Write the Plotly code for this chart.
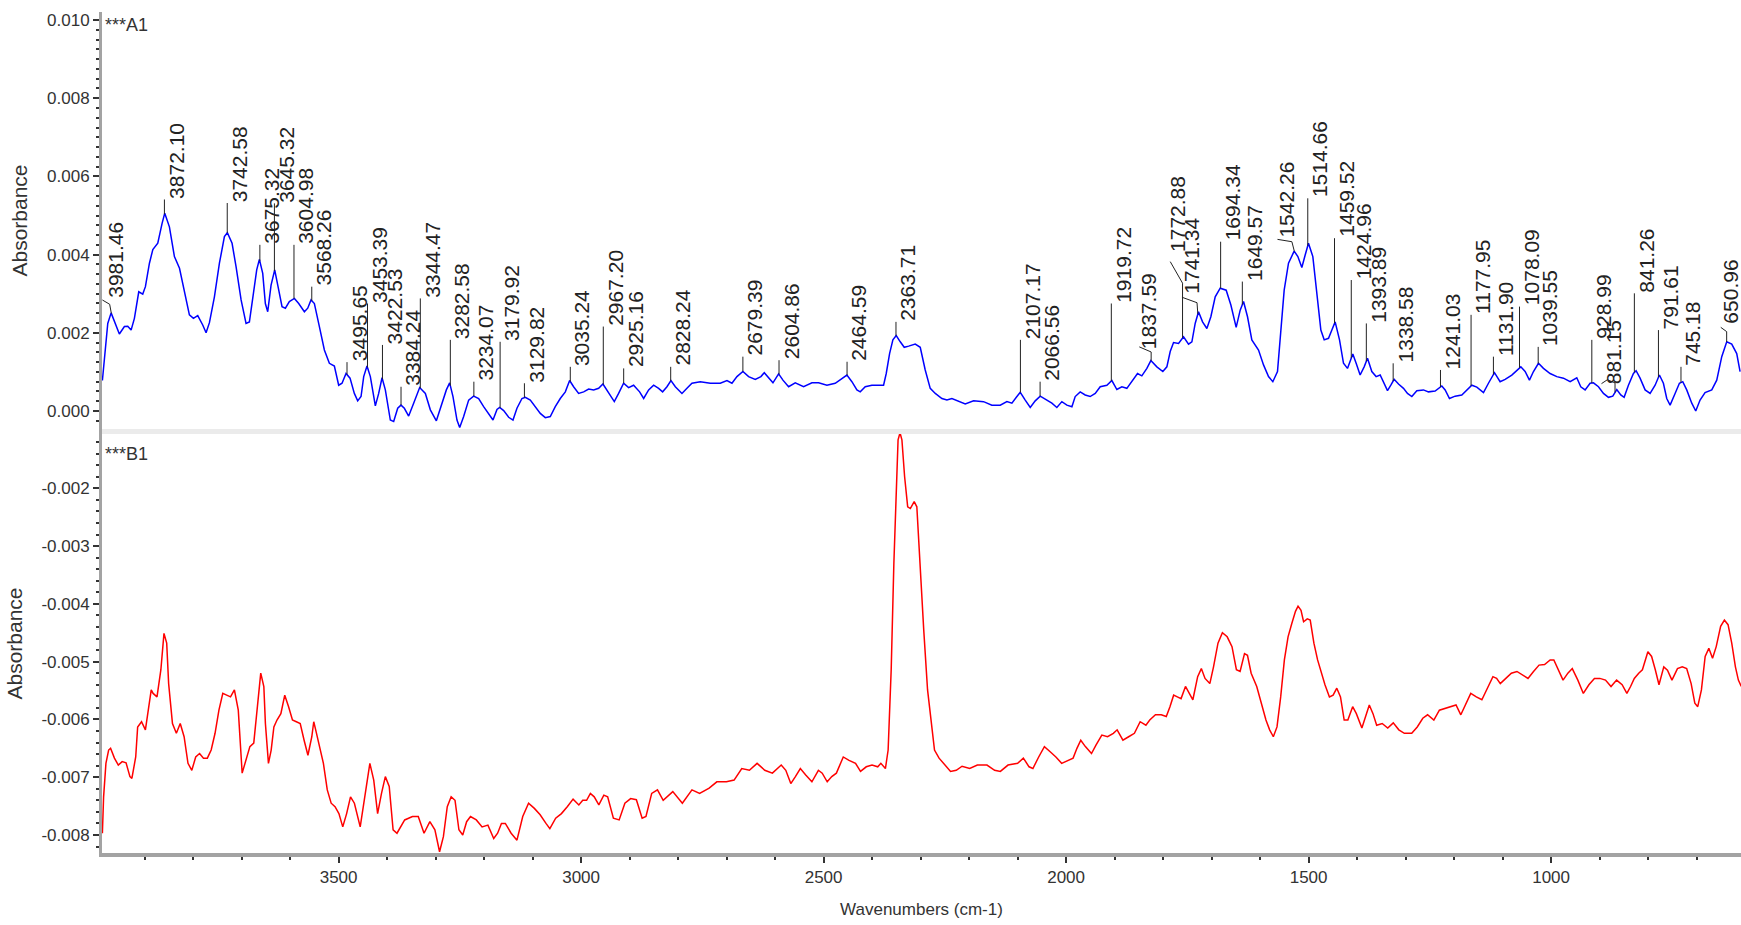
import numpy as np
import plotly.graph_objects as go

# ---------------- data: spectrum A1 (top, blue), wavenumbers read on the axis ----------------
a1_wn = [3987.0, 3980.7, 3975.9, 3969.0, 3962.0, 3952.0, 3941.6, 3934.7, 3927.8, 3921.0,
         3912.0, 3903.8, 3898.3, 3890.0, 3883.0, 3872.8, 3863.9, 3858.4, 3848.8, 3838.5,
         3828.0, 3817.9, 3807.6, 3799.3, 3790.4, 3780.1, 3773.2, 3766.3, 3756.0, 3745.7,
         3735.4, 3729.3, 3719.6, 3711.4, 3701.0, 3690.8, 3683.9, 3675.6, 3668.8, 3663.3,
         3656.4, 3651.0, 3646.1, 3639.2, 3631.7, 3624.8, 3616.6, 3609.7, 3601.5, 3591.1,
         3582.2, 3570.5, 3563.6, 3556.8, 3549.9, 3539.6, 3529.3, 3519.0, 3508.7, 3499.8,
         3492.9, 3484.6, 3476.4, 3467.5, 3460.6, 3453.7, 3448.2, 3441.4, 3434.5, 3424.2,
         3417.3, 3410.4, 3403.6, 3393.3, 3386.4, 3378.1, 3371.3, 3364.4, 3355.5, 3345.2,
         3332.8, 3321.1, 3310.8, 3298.4, 3286.8, 3277.8, 3271.0, 3264.1, 3255.9, 3250.3,
         3242.1, 3231.8, 3221.5, 3211.2, 3200.9, 3190.6, 3181.6, 3173.4, 3167.9, 3159.6,
         3149.3, 3140.4, 3132.2, 3121.9, 3115.0, 3104.7, 3094.4, 3084.1, 3073.8, 3063.5,
         3053.2, 3042.9, 3032.5, 3023.6, 3015.4, 3005.1, 2994.7, 2984.4, 2974.1, 2963.8,
         2954.9, 2943.2, 2931.5, 2922.6, 2912.3, 2902.0, 2891.7, 2879.3, 2871.0, 2860.7,
         2850.4, 2840.1, 2831.9, 2822.9, 2814.7, 2805.7, 2792.0, 2781.7, 2771.4, 2754.2,
         2733.6, 2713.0, 2699.2, 2688.9, 2678.6, 2666.3, 2654.6, 2640.9, 2629.2, 2622.3,
         2613.4, 2604.4, 2592.7, 2583.8, 2572.1, 2558.4, 2541.2, 2524.0, 2510.3, 2493.1,
         2476.0, 2462.2, 2451.9, 2441.6, 2431.3, 2424.4, 2414.1, 2400.4, 2386.6, 2376.3,
         2370.8, 2363.9, 2357.1, 2350.2, 2341.9, 2333.7, 2324.6, 2311.0, 2300.7, 2290.4,
         2280.1, 2269.7, 2256.0, 2245.7, 2235.4, 2225.1, 2207.9, 2190.7, 2170.1, 2153.0,
         2135.8, 2122.0, 2111.7, 2101.4, 2094.5, 2084.2, 2073.9, 2063.6, 2053.3, 2039.6,
         2029.3, 2019.0, 2008.7, 1998.3, 1988.0, 1981.2, 1970.9, 1960.6, 1950.3, 1939.9,
         1929.6, 1915.9, 1905.6, 1895.3, 1885.0, 1874.7, 1864.4, 1852.7, 1843.8, 1833.4,
         1825.2, 1812.8, 1800.5, 1792.2, 1785.3, 1778.4, 1768.1, 1757.8, 1747.5, 1740.6,
         1733.8, 1726.9, 1718.6, 1709.7, 1701.5, 1692.5, 1682.2, 1669.9, 1660.2, 1649.3,
         1641.0, 1634.1, 1625.9, 1617.0, 1603.2, 1592.9, 1582.6, 1573.7, 1564.1, 1557.2,
         1550.3, 1541.4, 1529.7, 1522.1, 1513.9, 1507.0, 1500.2, 1491.2, 1483.0, 1474.7,
         1467.8, 1458.9, 1452.0, 1445.2, 1436.2, 1428.0, 1419.8, 1408.8, 1401.9, 1393.7,
         1385.4, 1378.5, 1369.6, 1360.7, 1352.4, 1345.6, 1337.3, 1330.4, 1323.6, 1314.6,
         1304.3, 1296.1, 1287.1, 1276.8, 1263.1, 1252.8, 1239.1, 1225.3, 1218.4, 1209.5,
         1197.8, 1184.1, 1173.7, 1163.4, 1153.1, 1139.4, 1129.1, 1116.7, 1105.1, 1094.7,
         1081.0, 1070.7, 1062.4, 1053.5, 1044.6, 1036.3, 1026.0, 1015.7, 1002.0, 988.2,
         974.5, 960.7, 947.0, 938.8, 929.8, 919.5, 912.6, 902.3, 892.0, 881.7,
         872.8, 864.5, 856.3, 849.4, 840.5, 830.2, 824.7, 816.5, 806.1, 795.8,
         785.5, 776.6, 768.4, 761.5, 754.6, 744.3, 735.4, 728.5, 720.3, 709.9,
         701.7, 692.8, 682.5, 668.7, 658.4, 648.1, 637.8, 627.5, 617.2, 610.3]
a1_abs = [0.00078, 0.00156, 0.00224, 0.00251, 0.00228, 0.00197, 0.00216, 0.00217, 0.00207, 0.00237,
          0.00305, 0.00299, 0.00318, 0.00378, 0.00413, 0.00429, 0.00480, 0.00506, 0.00471, 0.00395,
          0.00365, 0.00309, 0.00246, 0.00237, 0.00244, 0.00220, 0.00200, 0.00226, 0.00292, 0.00378,
          0.00446, 0.00456, 0.00429, 0.00369, 0.00284, 0.00224, 0.00228, 0.00301, 0.00361, 0.00388,
          0.00352, 0.00275, 0.00254, 0.00322, 0.00361, 0.00318, 0.00267, 0.00263, 0.00280, 0.00288,
          0.00275, 0.00254, 0.00263, 0.00284, 0.00275, 0.00216, 0.00156, 0.00122, 0.00115, 0.00066,
          0.00071, 0.00096, 0.00084, 0.00045, 0.00026, 0.00037, 0.00088, 0.00115, 0.00088, 0.00013,
          0.00045, 0.00085, 0.00054, -0.00023, -0.00027, 0.00007, 0.00015, 0.00007, -0.00013, 0.00020,
          0.00060, 0.00045, 0.00003, -0.00025, 0.00020, 0.00054, 0.00072, 0.00037, -0.00023, -0.00042,
          -0.00014, 0.00028, 0.00038, 0.00032, 0.00011, -0.00008, -0.00023, 0.00004, 0.00009, 0.00001,
          -0.00016, -0.00023, 0.00007, 0.00032, 0.00035, 0.00028, 0.00011, -0.00006, -0.00017, -0.00014,
          0.00011, 0.00032, 0.00049, 0.00078, 0.00062, 0.00045, 0.00049, 0.00056, 0.00054, 0.00058,
          0.00069, 0.00045, 0.00024, 0.00045, 0.00071, 0.00060, 0.00066, 0.00049, 0.00032, 0.00054,
          0.00066, 0.00058, 0.00049, 0.00062, 0.00078, 0.00062, 0.00045, 0.00058, 0.00071, 0.00075,
          0.00071, 0.00071, 0.00078, 0.00071, 0.00088, 0.00101, 0.00088, 0.00081, 0.00088, 0.00098,
          0.00086, 0.00072, 0.00095, 0.00079, 0.00062, 0.00072, 0.00062, 0.00072, 0.00072, 0.00066,
          0.00071, 0.00084, 0.00092, 0.00075, 0.00054, 0.00049, 0.00062, 0.00066, 0.00066, 0.00066,
          0.00096, 0.00147, 0.00182, 0.00193, 0.00177, 0.00163, 0.00166, 0.00171, 0.00163, 0.00105,
          0.00058, 0.00045, 0.00032, 0.00028, 0.00032, 0.00026, 0.00018, 0.00026, 0.00024, 0.00015,
          0.00015, 0.00024, 0.00020, 0.00037, 0.00048, 0.00028, 0.00009, 0.00026, 0.00038, 0.00028,
          0.00020, 0.00009, 0.00024, 0.00015, 0.00011, 0.00037, 0.00049, 0.00041, 0.00037, 0.00045,
          0.00062, 0.00066, 0.00078, 0.00055, 0.00062, 0.00058, 0.00075, 0.00096, 0.00090, 0.00109,
          0.00129, 0.00113, 0.00101, 0.00113, 0.00152, 0.00175, 0.00173, 0.00190, 0.00171, 0.00177,
          0.00224, 0.00254, 0.00228, 0.00211, 0.00241, 0.00292, 0.00314, 0.00309, 0.00271, 0.00214,
          0.00258, 0.00280, 0.00241, 0.00182, 0.00156, 0.00118, 0.00088, 0.00075, 0.00101, 0.00207,
          0.00309, 0.00378, 0.00409, 0.00395, 0.00367, 0.00399, 0.00429, 0.00395, 0.00309, 0.00207,
          0.00182, 0.00186, 0.00207, 0.00228, 0.00182, 0.00122, 0.00109, 0.00146, 0.00122, 0.00092,
          0.00113, 0.00135, 0.00101, 0.00088, 0.00092, 0.00072, 0.00052, 0.00066, 0.00081, 0.00069,
          0.00058, 0.00045, 0.00037, 0.00052, 0.00054, 0.00049, 0.00051, 0.00064, 0.00054, 0.00032,
          0.00038, 0.00041, 0.00054, 0.00066, 0.00061, 0.00047, 0.00071, 0.00098, 0.00075, 0.00081,
          0.00092, 0.00105, 0.00113, 0.00101, 0.00079, 0.00101, 0.00122, 0.00109, 0.00096, 0.00088,
          0.00084, 0.00075, 0.00085, 0.00062, 0.00054, 0.00071, 0.00072, 0.00062, 0.00045, 0.00035,
          0.00038, 0.00055, 0.00041, 0.00035, 0.00066, 0.00096, 0.00103, 0.00084, 0.00054, 0.00045,
          0.00066, 0.00092, 0.00071, 0.00032, 0.00015, 0.00045, 0.00071, 0.00075, 0.00054, 0.00020,
          0.00000, 0.00028, 0.00047, 0.00054, 0.00079, 0.00139, 0.00177, 0.00171, 0.00147, 0.00101]

# ---------------- data: spectrum B1 (bottom, red) ----------------
b1_wn = [3987.0, 3984.5, 3979.7, 3974.1, 3970.1, 3962.2, 3954.2, 3946.2, 3938.2, 3930.2,
         3926.2, 3918.3, 3914.3, 3906.3, 3898.3, 3890.3, 3886.3, 3882.4, 3874.4, 3866.4,
         3860.0, 3854.4, 3850.4, 3842.5, 3834.5, 3826.5, 3818.5, 3810.5, 3802.6, 3794.6,
         3786.6, 3778.6, 3770.6, 3762.7, 3754.7, 3746.7, 3738.7, 3730.7, 3722.8, 3714.8,
         3706.8, 3698.8, 3690.8, 3682.9, 3674.9, 3666.9, 3660.5, 3654.1, 3650.9, 3644.6,
         3639.0, 3633.4, 3627.0, 3619.0, 3611.0, 3603.1, 3595.1, 3587.1, 3579.1, 3571.1,
         3563.2, 3555.2, 3551.2, 3547.2, 3539.2, 3531.3, 3523.3, 3515.3, 3507.3, 3499.3,
         3491.4, 3483.4, 3475.4, 3467.4, 3455.4, 3443.5, 3435.5, 3427.5, 3419.5, 3411.5,
         3403.6, 3395.6, 3387.6, 3379.6, 3371.6, 3363.7, 3355.7, 3347.7, 3335.7, 3323.8,
         3311.8, 3301.4, 3291.8, 3283.9, 3275.9, 3267.9, 3259.9, 3251.9, 3244.0, 3236.0,
         3228.0, 3216.0, 3204.1, 3192.1, 3180.1, 3172.1, 3164.2, 3156.2, 3144.2, 3132.2,
         3120.3, 3108.3, 3096.3, 3084.4, 3072.4, 3064.4, 3052.4, 3040.5, 3028.5, 3016.5,
         3004.6, 2996.6, 2988.6, 2980.8, 2972.9, 2963.4, 2953.1, 2945.2, 2933.4, 2921.5,
         2909.7, 2897.8, 2886.0, 2874.1, 2866.2, 2854.4, 2842.5, 2830.7, 2810.9, 2791.2,
         2771.4, 2755.6, 2735.9, 2720.1, 2700.3, 2684.5, 2668.7, 2652.9, 2637.1, 2621.3,
         2605.5, 2587.3, 2577.9, 2567.6, 2558.1, 2547.9, 2536.8, 2524.1, 2510.7, 2502.8,
         2492.5, 2483.1, 2473.6, 2459.4, 2447.5, 2434.1, 2423.8, 2412.0, 2400.1, 2388.3,
         2381.9, 2372.5, 2366.9, 2360.6, 2355.1, 2350.3, 2346.4, 2342.4, 2338.5, 2332.9,
         2326.6, 2321.1, 2313.2, 2307.7, 2301.4, 2293.5, 2285.6, 2277.7, 2271.3, 2261.9,
         2250.0, 2238.2, 2226.4, 2214.5, 2198.7, 2182.9, 2163.1, 2147.3, 2135.5, 2119.7,
         2099.9, 2088.1, 2076.3, 2068.4, 2056.5, 2044.7, 2032.8, 2021.0, 2009.1, 1997.3,
         1985.5, 1977.6, 1969.7, 1960.2, 1947.6, 1938.1, 1926.3, 1914.4, 1902.6, 1894.7,
         1882.8, 1871.0, 1859.1, 1847.3, 1835.4, 1827.5, 1815.7, 1803.8, 1793.4, 1785.8,
         1778.2, 1770.6, 1762.9, 1753.8, 1746.2, 1738.6, 1728.7, 1721.1, 1713.5, 1703.6,
         1696.0, 1686.8, 1677.7, 1667.8, 1657.9, 1648.8, 1641.2, 1632.1, 1626.0, 1618.4,
         1606.9, 1599.3, 1587.9, 1580.3, 1572.7, 1565.1, 1557.5, 1549.9, 1542.3, 1534.6,
         1527.0, 1521.7, 1515.6, 1510.3, 1502.7, 1496.6, 1489.0, 1481.4, 1473.8, 1466.2,
         1457.0, 1449.4, 1441.8, 1434.2, 1426.6, 1419.0, 1409.1, 1401.5, 1390.1, 1382.4,
         1374.8, 1367.2, 1359.6, 1348.2, 1336.8, 1325.4, 1313.9, 1302.5, 1287.3, 1275.9,
         1264.5, 1254.6, 1241.7, 1230.3, 1218.8, 1207.4, 1196.0, 1186.1, 1175.5, 1165.6,
         1154.1, 1142.7, 1131.3, 1119.9, 1112.3, 1104.7, 1093.3, 1081.9, 1070.4, 1059.0,
         1047.6, 1036.2, 1024.8, 1013.4, 1001.9, 994.3, 986.7, 975.3, 965.4, 956.3,
         944.8, 933.5, 922.0, 910.6, 899.4, 887.8, 876.4, 864.9, 853.5, 843.7,
         836.1, 828.4, 819.3, 811.7, 800.4, 792.7, 785.1, 777.5, 767.6, 760.0,
         750.8, 739.4, 729.5, 720.4, 711.2, 703.6, 697.6, 690.0, 682.3, 674.7,
         667.1, 659.5, 650.4, 642.6, 635.1, 627.5, 619.9, 613.8, 607.8]
b1_abs = [-0.00797, -0.00734, -0.00676, -0.00653, -0.00650, -0.00667, -0.00679, -0.00673, -0.00675, -0.00699,
          -0.00702, -0.00665, -0.00613, -0.00604, -0.00618, -0.00572, -0.00549, -0.00555, -0.00561, -0.00514,
          -0.00451, -0.00468, -0.00538, -0.00607, -0.00624, -0.00607, -0.00630, -0.00676, -0.00688, -0.00665,
          -0.00659, -0.00667, -0.00667, -0.00653, -0.00624, -0.00584, -0.00555, -0.00558, -0.00561, -0.00549,
          -0.00584, -0.00693, -0.00670, -0.00647, -0.00641, -0.00572, -0.00520, -0.00543, -0.00607, -0.00676,
          -0.00653, -0.00613, -0.00601, -0.00590, -0.00558, -0.00578, -0.00601, -0.00604, -0.00607, -0.00636,
          -0.00662, -0.00630, -0.00604, -0.00618, -0.00647, -0.00676, -0.00722, -0.00745, -0.00751, -0.00763,
          -0.00786, -0.00763, -0.00734, -0.00745, -0.00786, -0.00722, -0.00676, -0.00705, -0.00763, -0.00728,
          -0.00699, -0.00716, -0.00791, -0.00797, -0.00786, -0.00774, -0.00771, -0.00768, -0.00768, -0.00797,
          -0.00777, -0.00791, -0.00829, -0.00803, -0.00751, -0.00734, -0.00740, -0.00791, -0.00800, -0.00777,
          -0.00768, -0.00774, -0.00786, -0.00783, -0.00806, -0.00797, -0.00780, -0.00780, -0.00797, -0.00809,
          -0.00768, -0.00745, -0.00754, -0.00765, -0.00780, -0.00789, -0.00771, -0.00763, -0.00751, -0.00738,
          -0.00748, -0.00740, -0.00740, -0.00728, -0.00734, -0.00748, -0.00731, -0.00734, -0.00771, -0.00774,
          -0.00745, -0.00737, -0.00739, -0.00771, -0.00768, -0.00728, -0.00722, -0.00740, -0.00725, -0.00745,
          -0.00722, -0.00728, -0.00719, -0.00708, -0.00708, -0.00705, -0.00685, -0.00688, -0.00676, -0.00688,
          -0.00693, -0.00679, -0.00688, -0.00711, -0.00699, -0.00685, -0.00696, -0.00708, -0.00688, -0.00693,
          -0.00708, -0.00699, -0.00693, -0.00665, -0.00671, -0.00676, -0.00690, -0.00682, -0.00679, -0.00682,
          -0.00676, -0.00685, -0.00653, -0.00514, -0.00330, -0.00191, -0.00116, -0.00104, -0.00116, -0.00180,
          -0.00232, -0.00235, -0.00223, -0.00232, -0.00330, -0.00445, -0.00549, -0.00601, -0.00653, -0.00667,
          -0.00679, -0.00690, -0.00688, -0.00681, -0.00685, -0.00679, -0.00679, -0.00688, -0.00690, -0.00679,
          -0.00676, -0.00667, -0.00682, -0.00685, -0.00665, -0.00647, -0.00656, -0.00665, -0.00676, -0.00671,
          -0.00667, -0.00650, -0.00636, -0.00647, -0.00659, -0.00644, -0.00627, -0.00630, -0.00624, -0.00618,
          -0.00636, -0.00630, -0.00624, -0.00604, -0.00610, -0.00601, -0.00592, -0.00592, -0.00595, -0.00578,
          -0.00558, -0.00561, -0.00564, -0.00543, -0.00555, -0.00566, -0.00526, -0.00512, -0.00529, -0.00538,
          -0.00509, -0.00468, -0.00450, -0.00457, -0.00474, -0.00514, -0.00517, -0.00486, -0.00489, -0.00520,
          -0.00543, -0.00566, -0.00601, -0.00618, -0.00630, -0.00613, -0.00561, -0.00497, -0.00457, -0.00434,
          -0.00413, -0.00404, -0.00411, -0.00431, -0.00426, -0.00428, -0.00468, -0.00497, -0.00520, -0.00540,
          -0.00561, -0.00558, -0.00546, -0.00561, -0.00601, -0.00601, -0.00578, -0.00590, -0.00615, -0.00595,
          -0.00575, -0.00590, -0.00610, -0.00607, -0.00615, -0.00606, -0.00618, -0.00624, -0.00624, -0.00613,
          -0.00598, -0.00592, -0.00601, -0.00584, -0.00581, -0.00578, -0.00575, -0.00592, -0.00572, -0.00555,
          -0.00561, -0.00566, -0.00546, -0.00526, -0.00529, -0.00538, -0.00529, -0.00520, -0.00517, -0.00523,
          -0.00529, -0.00517, -0.00506, -0.00505, -0.00497, -0.00497, -0.00512, -0.00532, -0.00520, -0.00512,
          -0.00532, -0.00555, -0.00540, -0.00529, -0.00529, -0.00532, -0.00543, -0.00532, -0.00540, -0.00555,
          -0.00543, -0.00529, -0.00520, -0.00514, -0.00483, -0.00491, -0.00514, -0.00540, -0.00509, -0.00515,
          -0.00532, -0.00512, -0.00509, -0.00512, -0.00538, -0.00572, -0.00578, -0.00549, -0.00491, -0.00477,
          -0.00494, -0.00474, -0.00439, -0.00428, -0.00436, -0.00468, -0.00509, -0.00532, -0.00543]

# ---------------- peak labels on A1 ----------------
peak_labels = ["3981.46", "3872.10", "3742.58", "3675.32", "3645.32", "3604.98", "3568.26",
               "3495.65", "3453.39", "3422.53", "3384.24", "3344.47", "3282.58", "3234.07",
               "3179.92", "3129.82", "3035.24", "2967.20", "2925.16", "2828.24", "2679.39",
               "2604.86", "2464.59", "2363.71", "2107.17", "2066.56", "1919.72", "1837.59",
               "1772.88", "1741.34", "1694.34", "1649.57", "1542.26", "1514.66", "1459.52",
               "1424.96", "1393.89", "1338.58", "1241.03", "1177.95", "1131.90", "1078.09",
               "1039.55", "928.99", "881.15", "841.26", "791.61", "745.18", "650.96"]
# where each marked peak sits on the drawn wavenumber axis
label_pos = [3968.46, 3859.10, 3729.58, 3662.32, 3632.32, 3591.98, 3555.26,
             3482.65, 3440.39, 3409.53, 3371.24, 3331.47, 3269.58, 3221.07,
             3166.92, 3116.82, 3022.24, 2954.20, 2912.16, 2815.24, 2666.39,
             2591.86, 2451.59, 2350.71, 2094.17, 2053.56, 1906.72, 1824.59,
             1759.88, 1728.34, 1681.34, 1636.57, 1529.26, 1501.66, 1446.52,
             1411.96, 1380.89, 1325.58, 1228.03, 1164.95, 1118.90, 1065.09,
             1026.55, 915.99, 868.15, 828.26, 778.61, 732.18, 637.96]
# absorbance level where each (staggered) label starts
label_top = [0.00288, 0.00541, 0.00532, 0.00425, 0.00531, 0.00425, 0.00318,
             0.00125, 0.00275, 0.00169, 0.00062, 0.00288, 0.00182, 0.00075,
             0.00177, 0.00071, 0.00113, 0.00216, 0.00109, 0.00113, 0.00139,
             0.00130, 0.00126, 0.00228, 0.00182, 0.00075, 0.00275, 0.00156,
             0.00403, 0.00297, 0.00433, 0.00331, 0.00442, 0.00544, 0.00442,
             0.00335, 0.00224, 0.00122, 0.00105, 0.00246, 0.00139, 0.00267,
             0.00164, 0.00182, 0.00066, 0.00301, 0.00207, 0.00113, 0.00220]

x_ticks = [3500, 3000, 2500, 2000, 1500, 1000]
top_ticks = [0.000, 0.002, 0.004, 0.006, 0.008, 0.010]
top_tick_text = ["0.000", "0.002", "0.004", "0.006", "0.008", "0.010"]
bot_ticks = [-0.008, -0.007, -0.006, -0.005, -0.004, -0.003, -0.002]
bot_tick_text = ["-0.008", "-0.007", "-0.006", "-0.005", "-0.004", "-0.003", "-0.002"]

# ---------------- styling / layout helpers ----------------
FONT = "Liberation Sans, Arial, sans-serif"
TXT = "#333333"
AXIS_GREY = "#a3a3a3"
X_RANGE = [3987.8, 608.4]

# leader lines that bend (knee points in data coords), text offsets (px)
leader_bends = {
    "3981.46": [(3972.0, 0.00273), (3987.0, 0.00284)],
    "1837.59": [(1824.59, 0.00151), (1849.0, 0.00164)],
    "1772.88": [(1759.88, 0.00327), (1785.2, 0.00382)],
    "1741.34": [(1730.0, 0.00277), (1761.1, 0.00291)],
    "1542.26": [(1534.4, 0.00433), (1564.1, 0.00439)],
    "881.15": [(868.15, 0.00072), (884.0, 0.00080), (896.0, 0.00070)],
    "650.96": [(637.96, 0.00203), (650.1, 0.00214)],
}
text_shift = {"3981.46": 4, "1837.59": -3, "1772.88": -5, "1741.34": -6,
              "1542.26": -8, "881.15": -2, "650.96": 3}

fig = go.Figure()

fig.add_trace(go.Scatter(x=a1_wn, y=a1_abs, mode="lines",
                         line=dict(color="#0000ff", width=1.5),
                         xaxis="x", yaxis="y", showlegend=False, hoverinfo="skip"))
fig.add_trace(go.Scatter(x=b1_wn, y=b1_abs, mode="lines",
                         line=dict(color="#ff0000", width=1.5),
                         xaxis="x2", yaxis="y2", showlegend=False, hoverinfo="skip"))

# leader lines from peak to label
wn_asc = np.array(a1_wn)[::-1]
abs_asc = np.array(a1_abs)[::-1]
lx, ly = [], []
annotations = []
for lab, w, top in zip(peak_labels, label_pos, label_top):
    base = float(np.interp(w, wn_asc, abs_asc))
    if lab in leader_bends:
        pts = [(w, base)] + leader_bends[lab]
    else:
        pts = [(w, base), (w, top)]
    for px, py in pts:
        lx.append(px)
        ly.append(py)
    lx.append(None)
    ly.append(None)
    annotations.append(dict(
        x=w, y=top, xref="x", yref="y", text=lab, textangle=-90,
        showarrow=False, xanchor="center", yanchor="bottom",
        xshift=text_shift.get(lab, 12), yshift=0, borderpad=0,
        font=dict(family=FONT, size=21, color="#222222")))

fig.add_trace(go.Scatter(x=lx, y=ly, mode="lines", line=dict(color="#222222", width=1),
                         xaxis="x", yaxis="y", showlegend=False, hoverinfo="skip"))

annotations.append(dict(x=0, y=1, xref="paper", yref="paper", text="***A1",
                        showarrow=False, xanchor="left", yanchor="top", xshift=1, yshift=-1,
                        font=dict(family=FONT, size=18, color=TXT)))
annotations.append(dict(x=0, y=0.49822, xref="paper", yref="paper", text="***B1",
                        showarrow=False, xanchor="left", yanchor="top", xshift=1, yshift=-8,
                        font=dict(family=FONT, size=18, color=TXT)))

tickfont = dict(family=FONT, size=17, color=TXT)
titlefont = dict(family=FONT, size=21, color=TXT)

fig.update_layout(
    width=1741, height=925, template="none",
    margin=dict(l=102, r=0, t=12, b=72, pad=0),
    paper_bgcolor="white", plot_bgcolor="white",
    showlegend=False,
    annotations=annotations,
    xaxis=dict(domain=[0, 1], anchor="y", matches="x2", range=X_RANGE,
               showticklabels=False, ticks="", showgrid=False, zeroline=False,
               showline=True, linecolor="#ebebeb", linewidth=5, automargin=False),
    yaxis=dict(domain=[0.50416, 1], anchor="x", range=[-0.00046, 0.010205],
               tickvals=top_ticks, ticktext=top_tick_text, tickfont=tickfont,
               ticks="outside", ticklen=6, tickwidth=2, tickcolor=TXT,
               minor=dict(dtick=0.00025, tick0=0, ticks="outside", ticklen=3, tickwidth=2,
                          tickcolor=TXT, showgrid=False),
               showgrid=False, zeroline=False, showline=True, linecolor=AXIS_GREY,
               linewidth=3, automargin=False,
               title=dict(text="Absorbance", font=titlefont, standoff=14)),
    xaxis2=dict(domain=[0, 1], anchor="y2", range=X_RANGE,
                tickvals=x_ticks, ticktext=[str(v) for v in x_ticks], tickfont=tickfont,
                ticks="outside", ticklen=6, tickwidth=2, tickcolor=TXT,
                minor=dict(dtick=100, tick0=0, ticks="outside", ticklen=3, tickwidth=2,
                           tickcolor=TXT, showgrid=False),
                showgrid=False, zeroline=False, showline=True, linecolor=AXIS_GREY,
                linewidth=4, automargin=False,
                title=dict(text="Wavenumbers (cm-1)", font=dict(family=FONT, size=17, color=TXT),
                           standoff=18)),
    yaxis2=dict(domain=[0, 0.49822], anchor="x2", range=[-0.008312, -0.00106],
                tickvals=bot_ticks, ticktext=bot_tick_text, tickfont=tickfont,
                ticks="outside", ticklen=6, tickwidth=2, tickcolor=TXT,
                minor=dict(dtick=0.0002, tick0=0, ticks="outside", ticklen=3, tickwidth=2,
                           tickcolor=TXT, showgrid=False),
                showgrid=False, zeroline=False, showline=True, linecolor=AXIS_GREY,
                linewidth=3, automargin=False,
                title=dict(text="Absorbance", font=titlefont, standoff=14)),
)

# continue the left axis bar through the gap between the two panels
fig.add_shape(type="line", xref="paper", yref="paper", x0=-1.5, x1=-1.5, y0=0.49822, y1=0.50416,
              xsizemode="pixel", xanchor=0, line=dict(color=AXIS_GREY, width=3))

# remove the default page margin so the figure sits at the window's top-left corner
fig.write_html("out.html", config={"displayModeBar": False},
               post_script="document.body.style.margin='0';document.body.style.overflow='hidden';")
